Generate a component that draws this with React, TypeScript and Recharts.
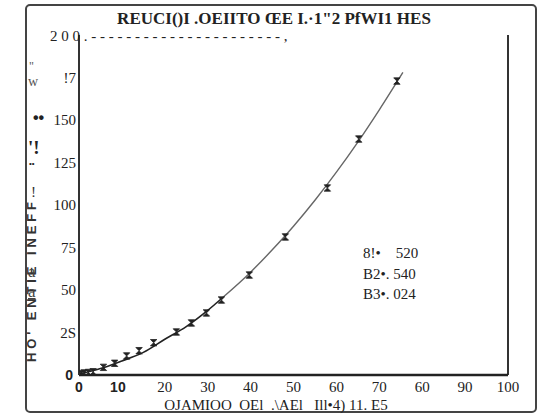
import React from "react";
import { ComposedChart, Line, Scatter, XAxis, YAxis, ReferenceLine } from "recharts";

// Measured data points (x, y)
const pointX = [0.5, 1.2, 2.2, 3.3, 5.7, 8.3, 11.1, 14.0, 17.4, 22.7, 26.2, 29.7, 33.2, 39.7, 48.1, 57.9, 65.2, 74.1];
const pointY = [0.8, 1.2, 1.5, 1.9, 4.5, 6.9, 11.2, 14.3, 19.0, 25.3, 30.6, 36.5, 44.1, 58.8, 81.2, 110.0, 138.8, 172.9];

// Fitted curve (dark part, then grey part)
const curveDarkX = [0, 5, 10, 15, 20, 25, 30, 33.5];
const curveDarkY = [0.5, 3.8, 8.3, 13.3, 21.0, 28.5, 38.0, 45.6];
const curveGreyX = [33.5, 40, 45, 50, 55, 60, 65, 70, 75.5];
const curveGreyY = [45.6, 60.5, 73.5, 87.5, 102.8, 119.3, 137.0, 156.0, 178.0];

// Axis ticks and labels (as printed)
const xTicks = [0, 10, 20, 30, 40, 50, 60, 70, 80, 90, 100];
const xTickLabels = ["0", "10", "20", "30", "40", "50", "60", "70", "60", "90", "100"];
const yTicks = [0, 25, 50, 75, 100, 125, 150, 175];
const yTickLabels = ["0", "2S", "50", "75", "100", "125", "150", "!7"];

const titleText = "REUCI()I .OEIITO ŒE I.·1\"2 PfWI1 HES";
const xTitle = "OJAMIOO  OEl  .\\AEl   Ill•4) 11. E5";
const yTitle = "HO' ENTIE INEFF";
const topLine = "2 0 0 . - - - - - - - - - - - - - - - - - - - - - - ,";
const coefLabels = ["8!•    520", "B2•. 540", "B3•. 024"];

const points = pointX.map((x, i) => ({ x, y: pointY[i] }));
const darkCurve = curveDarkX.map((x, i) => ({ x, y: curveDarkY[i] }));
const greyCurve = curveGreyX.map((x, i) => ({ x, y: curveGreyY[i] }));

const SERIF = "Liberation Serif, DejaVu Serif, serif";
const SANS = "Liberation Sans, DejaVu Sans, sans-serif";

const serif = (size: number, bold = false): React.CSSProperties => ({
  fontFamily: SERIF,
  fontSize: size,
  fontWeight: bold ? 700 : 400,
  whiteSpace: "pre",
});
const sans = (size: number, bold = false): React.CSSProperties => ({
  fontFamily: SANS,
  fontSize: size,
  fontWeight: bold ? 700 : 400,
  whiteSpace: "pre",
});

const Bowtie = (props: any) => {
  const { cx, cy } = props;
  if (cx == null || cy == null) return null;
  const s = 3.2;
  return (
    <path
      d={`M${cx - s},${cy - s} L${cx + s},${cy - s} L${cx},${cy} Z M${cx - s},${cy + s} L${cx + s},${cy + s} L${cx},${cy} Z`}
      fill="#222"
      stroke="#222"
      strokeWidth={0.8}
    />
  );
};

const XTick = (props: any) => {
  const { x, payload, index } = props;
  const label = xTickLabels[index] ?? String(payload.value);
  const bold = index <= 1;
  return (
    <text x={index === 1 ? x - 4 : x} y={392} textAnchor="middle" fill="#222" style={bold ? sans(14, true) : serif(15)}>
      {label}
    </text>
  );
};

const YTick = (props: any) => {
  const { y, payload, index } = props;
  const label = yTickLabels[index] ?? String(payload.value);
  const isZero = index === 0;
  return (
    <text x={isZero ? 73 : 76} y={y + 5} textAnchor="end" fill="#222" style={isZero ? sans(14, true) : serif(15)}>
      {label}
    </text>
  );
};

export default function App() {
  return (
    <div style={{ position: "absolute", left: 0, top: 0, width: 538, height: 415, background: "#fff" }}>
      <div
        style={{
          position: "absolute",
          left: 25,
          top: 4,
          width: 508,
          height: 405,
          border: "2px solid #444",
          borderRadius: 5,
        }}
      />
      <div style={{ position: "absolute", left: 0, top: 0 }}>
        <ComposedChart width={538} height={415} margin={{ top: 35, right: 30, left: 29, bottom: 10 }}>
          <XAxis
            type="number"
            dataKey="x"
            domain={[0, 100]}
            ticks={xTicks}
            interval={0}
            height={30}
            axisLine={{ stroke: "#222", strokeWidth: 2.5 }}
            tickLine={false}
            tick={<XTick />}
            allowDataOverflow
          />
          <YAxis
            type="number"
            dataKey="y"
            domain={[0, 200]}
            ticks={yTicks}
            interval={0}
            width={50}
            axisLine={{ stroke: "#333", strokeWidth: 2 }}
            tickLine={false}
            tick={<YTick />}
            allowDataOverflow
          />
          <ReferenceLine x={100} stroke="#333" strokeWidth={2} segment={[{ x: 100, y: 3 }, { x: 100, y: 197 }]} />
          <Line data={darkCurve} dataKey="y" type="monotone" stroke="#222" strokeWidth={1.6} dot={false} isAnimationActive={false} />
          <Line data={greyCurve} dataKey="y" type="monotone" stroke="#666" strokeWidth={1.4} dot={false} isAnimationActive={false} />
          <Scatter data={points} dataKey="y" shape={<Bowtie />} isAnimationActive={false} />
        </ComposedChart>
      </div>
      <svg width={538} height={415} style={{ position: "absolute", left: 0, top: 0, pointerEvents: "none" }}>
        <text x={274} y={24} textAnchor="middle" fill="#222" style={serif(17, true)}>
          {titleText}
        </text>
        <text x={50} y={41} fill="#222" style={serif(15)}>
          {topLine}
        </text>
        <text x={276} y={410} textAnchor="middle" fill="#222" style={serif(15)}>
          {xTitle}
        </text>
        {coefLabels.map((t, i) => (
          <text key={i} x={363} y={258 + i * 20.5} fill="#222" style={serif(15)}>
            {t}
          </text>
        ))}
        <text x={36} y={362} transform="rotate(-90 36 362)" fill="#333" style={sans(13, true)} textLength={160} lengthAdjust="spacing">
          {yTitle}
        </text>
        {/* stray scan marks */}
        <text x={29} y={70} fill="#555" style={serif(12)}>"</text>
        <text x={28} y={86} fill="#555" style={serif(14)}>w</text>
        <text x={33} y={123} fill="#222" style={sans(16, true)}>••</text>
        <text x={28} y={154} fill="#222" style={serif(19, true)}>'!</text>
        <text x={29} y={166} fill="#222" style={sans(8)}>••</text>
        <text x={31} y={197} fill="#333" style={serif(15)}>!</text>
        <text x={28} y={277} fill="#444" style={serif(17)}>a</text>
        <text x={28} y={297} fill="#444" textDecoration="underline" style={serif(17)}>a</text>
      </svg>
    </div>
  );
}
